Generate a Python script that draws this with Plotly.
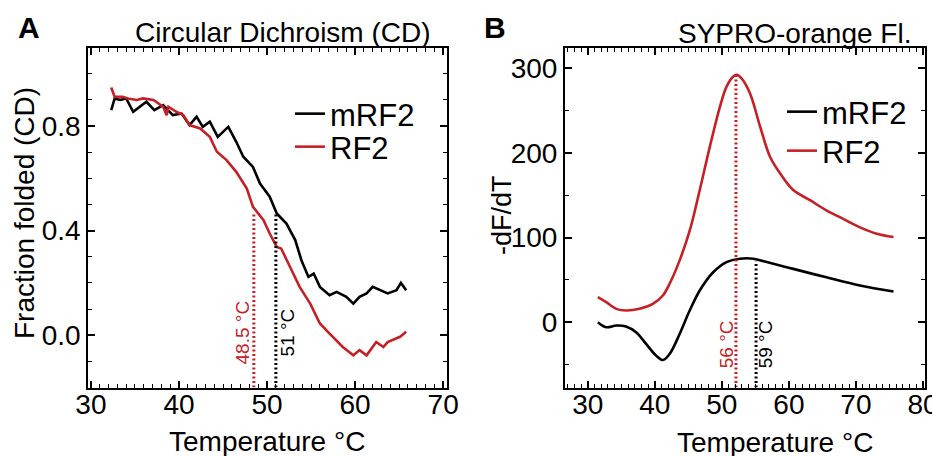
import plotly.graph_objects as go

# ---------------- data ----------------
# Panel A: Circular dichroism, fraction folded
cd_T_mrf2 = [32.3, 32.7, 33.3, 34.0, 34.8, 35.5, 36.3, 37.2, 38.2, 39.3, 40.3, 41.2, 42.0, 42.7,
             43.5, 44.4, 45.6, 46.5, 47.3, 48.4, 49.2, 50.3, 51.1, 52.2, 53.2, 53.9, 54.7, 55.3,
             56.0, 57.1, 57.9, 59.0, 59.8, 60.5, 61.3, 62.0, 62.8, 63.7, 64.7, 65.2, 65.8]
cd_mrf2 = [0.861, 0.906, 0.900, 0.906, 0.855, 0.874, 0.893, 0.861, 0.880, 0.842, 0.848, 0.804,
           0.836, 0.797, 0.817, 0.759, 0.797, 0.740, 0.683, 0.644, 0.580, 0.530, 0.466, 0.427,
           0.364, 0.287, 0.223, 0.236, 0.185, 0.153, 0.166, 0.147, 0.121, 0.147, 0.160, 0.185,
           0.172, 0.160, 0.172, 0.200, 0.172]
cd_T_rf2 = [32.3, 32.7, 33.6, 34.2, 35.2, 35.9, 37.1, 37.6, 38.2, 38.6, 38.8, 39.7, 40.5, 41.2,
            42.4, 43.5, 44.3, 45.4, 46.5, 47.7, 48.4, 49.6, 50.3, 51.1, 51.6, 52.6, 53.7, 54.9,
            56.0, 57.1, 58.6, 59.8, 60.5, 61.3, 62.4, 63.2, 63.7, 65.1, 65.8]
cd_rf2 = [0.948, 0.912, 0.912, 0.906, 0.900, 0.906, 0.900, 0.887, 0.874, 0.842, 0.874, 0.855,
          0.842, 0.804, 0.791, 0.759, 0.702, 0.670, 0.625, 0.561, 0.491, 0.440, 0.389, 0.338,
          0.332, 0.262, 0.185, 0.121, 0.045, 0.006, -0.045, -0.077, -0.057, -0.077, -0.026,
          -0.045, -0.026, -0.006, 0.013]
cd_tm_x = [48.5, 51.0]
cd_tm_top = [0.47, 0.47]
cd_tm_text = ["48.5 °C", "51 °C"]

# Panel B: SYPRO-orange fluorescence, -dF/dT
dsf_T_mrf2 = [31.5, 32.75, 34.25, 35.7, 37.2, 38.7, 40.2, 41.2, 42.2, 43.7, 45.2, 46.7, 48.7,
              50.7, 52.7, 54.7, 56.7, 60.65, 65.6, 70.6, 75.6]
dsf_mrf2 = [0, -5.9, -3.9, -5, -11.8, -25.6, -39.4, -44.6, -37.5, -13.8, 13.8, 37.5, 59,
            71, 75, 75, 71, 63, 53, 43.4, 36.3]
dsf_T_rf2 = [31.5, 32.75, 34.25, 35.7, 37.7, 39.7, 41.2, 42.2, 43.7, 45.2, 46.7, 48.2, 49.7,
             50.7, 51.7, 52.2, 52.9, 54.2, 55.7, 57.2, 58.7, 60.65, 63.15, 65.6, 68.1, 70.6,
             73.1, 75.6]
dsf_rf2 = [29.6, 23.7, 15.8, 13.8, 15.8, 21.7, 31.6, 45.4, 73, 108, 156, 207, 254,
           278, 290, 292, 288, 270, 231, 195, 175.5, 156, 144, 132, 122, 112, 104.5, 100.6]
dsf_tm_x = [52.1, 55.1]
dsf_tm_top = [292, 72]
dsf_tm_text = ["56 °C", "59 °C"]

series_names = ["mRF2", "RF2"]

# ---------------- style ----------------
RED = "#C62026"
BLACK = "#000000"
FONT = "Liberation Sans, Arial, sans-serif"
W, H = 932, 456
xrA = [29.7, 70.4]
yrA = [-0.2, 1.1]
xrB = [26.6, 80.3]
yrB = [-77, 324]

fig = go.Figure()

# Panel A traces (each legend entry in its own legend box for exact placement)
fig.add_trace(go.Scatter(x=cd_T_mrf2, y=cd_mrf2, mode="lines", name=series_names[0],
                         line=dict(color=BLACK, width=2.6), xaxis="x", yaxis="y", legend="legend"))
fig.add_trace(go.Scatter(x=cd_T_rf2, y=cd_rf2, mode="lines", name=series_names[1],
                         line=dict(color=RED, width=2.6), xaxis="x", yaxis="y", legend="legend2"))
for tx, top, col in zip(cd_tm_x, cd_tm_top, [RED, BLACK]):
    fig.add_trace(go.Scatter(x=[tx, tx], y=[yrA[0], top], mode="lines", showlegend=False,
                             line=dict(color=col, width=3, dash="2px,2.5px"), xaxis="x", yaxis="y"))

# Panel B traces
fig.add_trace(go.Scatter(x=dsf_T_mrf2, y=dsf_mrf2, mode="lines", name=series_names[0],
                         line=dict(color=BLACK, width=2.6, shape="spline"), xaxis="x2", yaxis="y2",
                         legend="legend3"))
fig.add_trace(go.Scatter(x=dsf_T_rf2, y=dsf_rf2, mode="lines", name=series_names[1],
                         line=dict(color=RED, width=2.6, shape="spline"), xaxis="x2", yaxis="y2",
                         legend="legend4"))
for tx, top, col in zip(dsf_tm_x, dsf_tm_top, [RED, BLACK]):
    fig.add_trace(go.Scatter(x=[tx, tx], y=[yrB[0], top], mode="lines", showlegend=False,
                             line=dict(color=col, width=3, dash="2px,2.5px"), xaxis="x2", yaxis="y2"))

ydom = [1 - 387.5 / H, 1 - 47.7 / H]
axis_common = dict(showgrid=False, zeroline=False, showline=True, linecolor="black", linewidth=2,
                   mirror="allticks", ticks="inside", ticklen=7, tickwidth=1.5, tickcolor="black",
                   tickfont=dict(family=FONT, size=28, color="black"), automargin=False,
                   ticklabeloverflow="allow")
minor_common = dict(ticklen=4, ticks="inside", tickcolor="black", tickwidth=1.2)


def leg(px, py):
    return dict(x=px / W, y=1 - py / H, xanchor="left", yanchor="middle", bgcolor="rgba(0,0,0,0)",
                font=dict(family=FONT, size=31, color="black"), borderwidth=0)


fig.update_layout(
    width=W, height=H,
    margin=dict(l=0, r=0, t=0, b=0, autoexpand=False),
    paper_bgcolor="white", plot_bgcolor="white",
    font=dict(family=FONT, color="black"),
    xaxis=dict(domain=[88.3 / W, 446.7 / W], range=xrA, tick0=30, dtick=10, anchor="y",
               ticklabelstandoff=-9, minor=dict(dtick=1, **minor_common), **axis_common),
    yaxis=dict(domain=ydom, range=yrA, tick0=0, dtick=0.4, tickformat=".1f", anchor="x",
               minor=dict(dtick=0.1, **minor_common), **axis_common),
    xaxis2=dict(domain=[565 / W, 925 / W], range=xrB, tick0=30, dtick=10, anchor="y2",
                ticklabelstandoff=-9, minor=dict(dtick=1, **minor_common), **axis_common),
    yaxis2=dict(domain=ydom, range=yrB, tick0=0, dtick=100, anchor="x2",
                minor=dict(dtick=50, **minor_common), **axis_common),
    legend=leg(290, 114),
    legend2=leg(290, 147),
    legend3=leg(782, 112),
    legend4=leg(782, 151),
)


def pann(text, px, py, size=28, angle=0, bold=False):
    return dict(text=f"<b>{text}</b>" if bold else text, x=px / W, y=1 - py / H,
                xref="paper", yref="paper", xanchor="center", yanchor="middle",
                showarrow=False, textangle=angle, font=dict(family=FONT, size=size, color="black"))


ann = [
    pann("A", 29, 28, size=30, bold=True),
    pann("B", 495, 28, size=30, bold=True),
    pann("Circular Dichroism (CD)", 283, 32),
    pann("SYPRO-orange Fl.", 794, 33),
    pann("Temperature °C", 267, 441),
    pann("Temperature °C", 775, 442),
    pann("Fraction folded (CD)", 25, 213, angle=-90),
    pann("-dF/dT", 502, 215, size=27, angle=-90),
]
# Tm labels
for tx, txt, col, sh in zip(cd_tm_x, cd_tm_text, [RED, BLACK], [-11, 12]):
    ann.append(dict(text=txt, x=tx, y=0.01, xref="x", yref="y", xshift=sh, showarrow=False,
                    xanchor="center", yanchor="middle",
                    textangle=-90, font=dict(family=FONT, size=19, color=col)))
for tx, txt, col, sh in zip(dsf_tm_x, dsf_tm_text, [RED, BLACK], [-10, 9]):
    ann.append(dict(text=txt, x=tx, y=-26, xref="x2", yref="y2", xshift=sh, showarrow=False,
                    xanchor="center", yanchor="middle",
                    textangle=-90, font=dict(family=FONT, size=19, color=col)))
fig.update_layout(annotations=ann)

fig.write_html("out.html", config={"displayModeBar": False},
               post_script="document.body.style.margin='0px';document.body.style.overflow='hidden';")
